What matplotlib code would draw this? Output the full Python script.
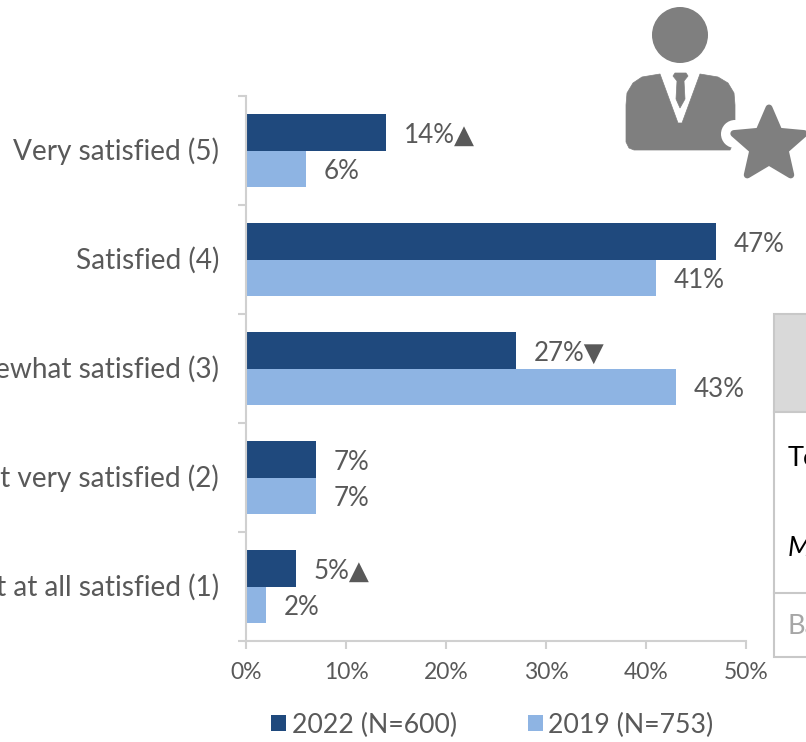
import matplotlib
matplotlib.use("Agg")
import matplotlib.pyplot as plt
from matplotlib.patches import Polygon, Circle, Rectangle
from matplotlib.transforms import ScaledTranslation
import numpy as np

##chart data
categories=["Very satisfied (5)", "Satisfied (4)", "Somewhat satisfied (3)", "Not very satisfied (2)", "Not at all satisfied (1)"]
values_2022=[14, 47, 27, 7, 5]
values_2019=[6, 41, 43, 7, 2]
flags_2022=["▲", "", "▼", "", "▲"]
label_2022="2022 (N=600)"
label_2019="2019 (N=753)"
table_rows=["Total", "Mean", "Base"]

W,H=806,742
GREY="#595959"
AXIS="#d0d0d0"
plt.rcParams['font.family']=['Lato', 'DejaVu Sans']

fig=plt.figure(figsize=(W/100, H/100), dpi=100)
ax=fig.add_axes([246/W, (H-641)/H, 500/W, 545/H])

y=np.arange(len(categories))
h=0.335
b1=ax.barh(y-h/2, values_2022, h, color="#1f497d", label=label_2022)
b2=ax.barh(y+h/2, values_2019, h, color="#8eb4e3", label=label_2019)

ax.set_xlim(0, 50)
ax.set_ylim(len(categories)-0.5, -0.5)
ax.set_xticks(range(0, 51, 10))
ax.set_xticklabels([str(v)+"%" for v in range(0, 51, 10)])
ax.set_yticks(np.arange(len(categories)+1)-0.5)
ax.set_yticklabels([])
ax.set_yticks(y, minor=True)
ax.set_yticklabels(categories, minor=True)
ax.tick_params(axis='y', which='minor', length=0, labelsize=20.2, labelcolor=GREY, pad=19.5)
ax.tick_params(axis='y', which='major', length=6, width=1.5, color=AXIS)
ax.tick_params(axis='x', length=6, width=1.5, color=AXIS, labelsize=16.5, labelcolor=GREY, pad=9)
for s in ['top', 'right']:
  ax.spines[s].set_visible(False)
for s in ['left', 'bottom']:
  ax.spines[s].set_color(AXIS)
  ax.spines[s].set_linewidth(1.5)
##nudge category labels up a little
for lbl in ax.get_yticklabels(minor=True):
  lbl.set_transform(lbl.get_transform()+ScaledTranslation(0, 1/72, fig.dpi_scale_trans))

##data labels
for i in y:
  ax.annotate(str(values_2022[i])+"%"+flags_2022[i], (values_2022[i], i-h/2), xytext=(12.5, -2),
              textcoords="offset points", va="center", ha="left", fontsize=18.7, color=GREY)
  ax.annotate(str(values_2019[i])+"%", (values_2019[i], i+h/2), xytext=(12.5, -2),
              textcoords="offset points", va="center", ha="left", fontsize=18.7, color=GREY)

fig.legend(handles=[b1, b2], loc="center left", bbox_to_anchor=(247/W, (H-725)/H), ncol=2, frameon=False,
           fontsize=19.2, labelcolor=GREY, handlelength=0.56, handleheight=0.56,
           handletextpad=0.22, columnspacing=2.65)

##overlay in pixel coords for icon and cropped table
ov=fig.add_axes([0, 0, 1, 1], zorder=5)
ov.set_xlim(0, W)
ov.set_ylim(H, 0)
ov.axis("off")
ov.patch.set_alpha(0)

ICON="#7f7f7f"
ov.add_patch(Circle((680, 35), 28, color=ICON, lw=0))
body=[(660,74),(642,77),(633,83),(627,93),(626,105),(626,142),(629,148),(634,150),(730,150),(735,140),
      (735,105),(734,93),(728,83),(718,77),(700,74),(682,123),(678,123)]
ov.add_patch(Polygon(body, closed=True, fc=ICON, ec=ICON, lw=0.5, joinstyle="round"))
ov.add_patch(Polygon([(675,73),(686,73),(688,76),(684,81),(685,99),(680,108),(676,99),(677,81),(673,76)],
                     closed=True, fc=ICON, ec=ICON, lw=0.5))
ov.add_patch(Circle((735, 134), 14, color="white", lw=0))
ang=np.deg2rad(np.arange(10)*36-90)
rad=np.array([37, 17]*5)
star=np.c_[769+rad*np.cos(ang), 145+rad*np.sin(ang)]
ov.add_patch(Polygon(star, closed=True, fc=ICON, ec=ICON, lw=5, joinstyle="round"))

##table cropped by the picture edge
TBL="#c8c8c8"
ov.add_patch(Rectangle((773.5, 314), 40, 98, fc="#d9d9d9", ec=TBL, lw=1.5))
ov.add_patch(Rectangle((773.5, 412), 40, 245, fc="white", ec=TBL, lw=1.5))
ov.plot([773.5, 813], [593, 593], color=TBL, lw=1.5)
ov.text(788, 459, table_rows[0], fontsize=19.5, color="black", va="center", ha="left")
ov.text(788, 549, table_rows[1], fontsize=19.5, color="black", style="italic", va="center", ha="left")
ov.text(788, 626, table_rows[2], fontsize=19.5, color="#a6a6a6", va="center", ha="left")

plt.savefig("out.png", dpi=100)
